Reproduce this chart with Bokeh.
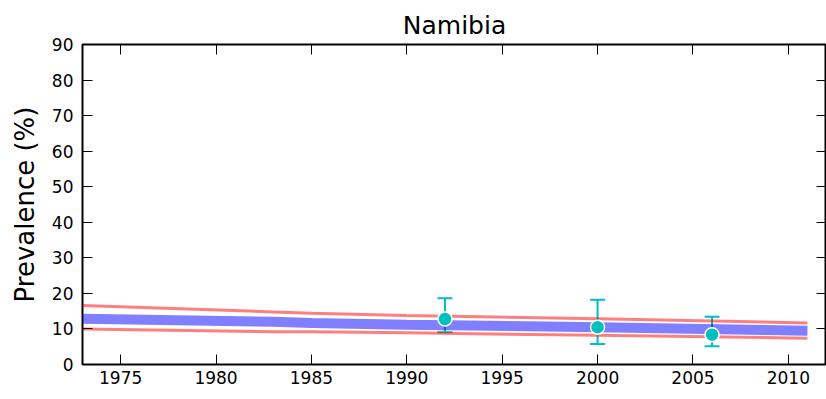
from bokeh.plotting import figure
from bokeh.models import LinearAxis, FixedTicker, Label
from bokeh.embed import file_html
from bokeh.resources import INLINE

# model band (years, lower, central, upper)
band_years = [1973, 1983, 1985, 1990, 2000, 2011]
band_lower = [10.0, 9.2, 9.2, 8.9, 8.2, 7.4]
band_mid = [12.9, 12.0, 11.7, 11.2, 10.5, 9.5]
band_upper = [16.6, 14.8, 14.4, 13.8, 12.9, 11.7]

# survey observations
obs_years = [1992, 2000, 2006]
obs_value = [12.8, 10.5, 8.4]
obs_low = [9.1, 5.8, 5.1]
obs_high = [18.6, 18.2, 13.4]

x_ticks = [1975, 1980, 1985, 1990, 1995, 2000, 2005, 2010]
y_ticks = [0, 10, 20, 30, 40, 50, 60, 70, 80, 90]

FONT = "DejaVu Sans"
TEAL = "#00bfbf"

p = figure(width=826, height=399, x_range=(1973, 2012), y_range=(0, 90),
           output_backend="svg", toolbar_location=None,
           min_border_left=82, min_border_right=0, min_border_top=44, min_border_bottom=35)

p.title.text = "Namibia"
p.title.align = "center"
p.title.text_font = FONT
p.title.text_font_size = "25px"
p.title.text_font_style = "normal"
p.title.text_color = "black"

p.grid.visible = False
p.outline_line_color = "black"
p.outline_line_width = 2
p.outline_line_alpha = 1

def style_axis(ax, ticks, show_labels, standoff=6):
    ax.ticker = FixedTicker(ticks=ticks)
    ax.major_tick_in = 10
    ax.major_tick_out = 0
    ax.minor_tick_in = 0
    ax.minor_tick_out = 0
    ax.major_tick_line_color = "black"
    ax.major_tick_line_width = 1
    ax.axis_line_color = None
    ax.major_label_text_font = FONT
    ax.major_label_text_color = "black"
    if show_labels:
        ax.major_label_text_font_size = "17px"
        ax.major_label_standoff = standoff
    else:
        ax.major_label_text_font_size = "0px"
        ax.major_label_standoff = 0
        ax.major_label_text_color = None

style_axis(p.xaxis[0], x_ticks, True, 6)
style_axis(p.yaxis[0], y_ticks, True, 9)
p.yaxis[0].axis_label = "Prevalence (%)"
p.yaxis[0].axis_label_text_font = FONT
p.yaxis[0].axis_label_text_font_size = "26px"
p.yaxis[0].axis_label_text_font_style = "normal"
p.yaxis[0].axis_label_text_color = "black"
p.yaxis[0].axis_label_standoff = 9

top = LinearAxis()
style_axis(top, x_ticks, False)
p.add_layout(top, "above")
right = LinearAxis()
style_axis(right, y_ticks, False)
p.add_layout(right, "right")

# error bars
p.segment(x0=obs_years, y0=obs_low, x1=obs_years, y1=obs_high, line_color=TEAL, line_width=2)
p.scatter(x=obs_years, y=obs_low, marker="dash", size=15, line_color=TEAL, line_width=2)
p.scatter(x=obs_years, y=obs_high, marker="dash", size=15, line_color=TEAL, line_width=2)

# model band
p.line(band_years, band_mid, line_color="blue", line_alpha=0.5, line_width=10)
p.line(band_years, band_upper, line_color="red", line_alpha=0.5, line_width=3)
p.line(band_years, band_lower, line_color="red", line_alpha=0.5, line_width=3)

# observation markers
p.scatter(x=obs_years, y=obs_value, marker="circle", size=14, fill_color=TEAL,
          line_color="white", line_width=1.5)

# cut-off label of the next panel (only its top shows at the bottom edge)
p.add_layout(Label(x=390, y=389, x_units="canvas", y_units="canvas", text="Niger",
                   text_font=FONT, text_font_size="25px", text_baseline="top",
                   text_align="left", text_color="black"))

open("out.html", "w").write(file_html(p, INLINE))
